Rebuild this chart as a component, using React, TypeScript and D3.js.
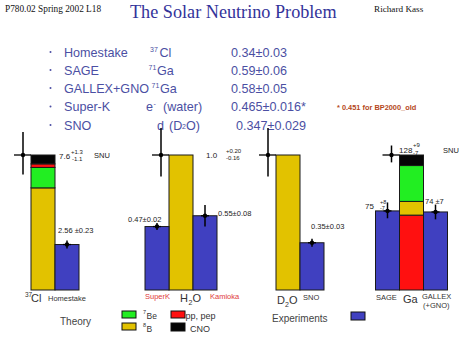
import React from "react";
import * as d3 from "d3";

// ---------- data ----------
const groups = ["Cl", "H2O", "D2O", "Ga"];
const theoryTotal = [7.6, 1.0, 1.0, 128];
const theoryErrPlus = [1.3, 0.2, 0.2, 9];
const theoryErrMinus = [1.1, 0.16, 0.16, 7];
// flux components (same units as the group totals)
const comp8B = [5.75, 1.0, 1.0, 13];
const comp7Be = [1.15, 0, 0, 34];
const compPP = [0.2, 0, 0, 71];
const compCNO = [0.5, 0, 0, 10];
const stackOrder = [
  ["8B", "7Be", "pp", "CNO"],
  ["8B"],
  ["8B"],
  ["pp", "8B", "7Be", "CNO"],
];

const experiments = ["Homestake", "SuperK", "Kamioka", "SNO", "SAGE", "GALLEX"];
const expGroup = [0, 1, 1, 2, 3, 3];
const expValue = [2.56, 0.47, 0.55, 0.35, 75, 74];
const expErrPlus = [0.23, 0.02, 0.08, 0.03, 8, 7];
const expErrMinus = [0.23, 0.02, 0.08, 0.03, 7, 7];
const groupSlots = [
  ["theory", "Homestake"],
  ["SuperK", "theory", "Kamioka"],
  ["theory", "SNO"],
  ["SAGE", "theory", "GALLEX"],
];

const listNames = ["Homestake", "SAGE", "GALLEX+GNO", "Super-K", "SNO"];
const listValues = ["0.34±0.03", "0.59±0.06", "0.58±0.05", "0.465±0.016*", "0.347±0.029"];

// ---------- styles / layout ----------
const W = 474;
const H = 355;
const SANS = "'Liberation Sans', Arial, Helvetica, sans-serif";
const SERIF = "'Liberation Serif', 'Times New Roman', serif";
const LIST_C = "#4b4fa3";
const BLUE = "#4040c0";
const COLORS: Record<string, string> = {
  "8B": "#e2c200",
  "7Be": "#22ee22",
  pp: "#ff1010",
  CNO: "#050505",
};
const compArrays: Record<string, number[]> = { "8B": comp8B, "7Be": comp7Be, pp: compPP, CNO: compCNO };
const groupX = [31, 145, 276, 375.5];
const barW = 24;
const yBottom = 290;
const yTop = 155;

export default function App() {
  const yScales = theoryTotal.map((t) => d3.scaleLinear().domain([0, t]).range([yBottom, yTop]));
  const xScales = groupSlots.map((slots, g) =>
    d3
      .scaleBand<string>()
      .domain(slots)
      .range([groupX[g], groupX[g] + barW * slots.length])
      .padding(0)
  );

  const theoryBars = groups.map((g, gi) => {
    const y = yScales[gi];
    const x = xScales[gi];
    let acc = 0;
    const segs = stackOrder[gi].map((c) => {
      const v = compArrays[c][gi];
      const y0 = acc;
      acc += v;
      return { c, y0, y1: acc };
    });
    const bx = x("theory") as number;
    const errX = bx - 8;
    return (
      <g key={g}>
        {segs.map((s) => (
          <rect
            key={s.c}
            x={bx}
            y={y(s.y1)}
            width={x.bandwidth()}
            height={y(s.y0) - y(s.y1)}
            fill={COLORS[s.c]}
            stroke="#1a1a1a"
            strokeWidth={1}
          />
        ))}
        <line
          x1={errX}
          x2={errX}
          y1={y(theoryTotal[gi] + theoryErrPlus[gi])}
          y2={y(theoryTotal[gi] - theoryErrMinus[gi])}
          stroke="#000"
          strokeWidth={1.5}
        />
        <line x1={errX - 9} x2={bx} y1={y(theoryTotal[gi])} y2={y(theoryTotal[gi])} stroke="#000" strokeWidth={1.3} />
        <circle cx={errX} cy={y(theoryTotal[gi])} r={2.2} fill="#000" />
      </g>
    );
  });

  const expBars = experiments.map((e, i) => {
    const gi = expGroup[i];
    const y = yScales[gi];
    const x = xScales[gi];
    const bx = x(e) as number;
    const cx = bx + x.bandwidth() / 2;
    return (
      <g key={e}>
        <rect
          x={bx}
          y={y(expValue[i])}
          width={x.bandwidth()}
          height={y(0) - y(expValue[i])}
          fill={BLUE}
          stroke="#1a1a1a"
          strokeWidth={1}
        />
        <line
          x1={cx}
          x2={cx}
          y1={Math.min(y(expValue[i] + expErrPlus[i]), y(expValue[i]) - 3.5)}
          y2={Math.max(y(expValue[i] - expErrMinus[i]), y(expValue[i]) + 3.5)}
          stroke="#000"
          strokeWidth={1.5}
        />
        <line x1={cx - 4} x2={cx + 4} y1={y(expValue[i])} y2={y(expValue[i])} stroke="#000" strokeWidth={1.3} />
        <circle cx={cx} cy={y(expValue[i])} r={2.2} fill="#000" />
      </g>
    );
  });

  const rowBase = [56.5, 74.5, 92.5, 111, 129.5];
  const lt = { fontFamily: SANS, fontSize: 12.6, fill: LIST_C } as const;
  const sup = { fontFamily: SANS, fontSize: 7, fill: LIST_C } as const;
  const small = { fontFamily: SANS, fontSize: 7.5, fill: "#222" } as const;
  const tiny = { fontFamily: SANS, fontSize: 6, fill: "#222" } as const;
  const lab = { fontFamily: SANS, fontSize: 7.5, fill: "#333" } as const;
  const red = { fontFamily: SANS, fontSize: 7.5, fill: "#e03a3a" } as const;
  const big = { fontFamily: SANS, fontSize: 11, fill: "#333" } as const;
  const sub = { fontFamily: SANS, fontSize: 7, fill: "#333" } as const;

  return (
    <svg
      width={W}
      height={H}
      viewBox={`0 0 ${W} ${H}`}
      style={{ position: "absolute", left: 0, top: 0, background: "#fff" }}
    >
      <rect x={0} y={0} width={W} height={H} fill="#fff" />
      {/* header */}
      <text x={5} y={11.5} fontFamily={SERIF} fontSize={9.3} fill="#111">
        P780.02 Spring 2002 L18
      </text>
      <text x={130} y={18} fontFamily={SERIF} fontSize={18.2} fill="#33339a">
        The Solar Neutrino Problem
      </text>
      <text x={374} y={11.5} fontFamily={SERIF} fontSize={9.2} fill="#111">
        Richard Kass
      </text>

      {/* list */}
      {listNames.map((n, i) => (
        <g key={n}>
          <circle cx={50.5} cy={rowBase[i] - 4.5} r={1} fill={LIST_C} />
          <text x={64} y={rowBase[i]} {...lt}>
            {n}
          </text>
          <text x={i === 4 ? 236 : 231} y={rowBase[i]} {...lt}>
            {listValues[i]}
          </text>
        </g>
      ))}
      <text x={150} y={rowBase[0] - 5} {...sup}>37</text>
      <text x={159.5} y={rowBase[0]} {...lt}>Cl</text>
      <text x={148.5} y={rowBase[1] - 5} {...sup}>71</text>
      <text x={157} y={rowBase[1]} {...lt}>Ga</text>
      <text x={151.5} y={rowBase[2] - 5} {...sup}>71</text>
      <text x={160} y={rowBase[2]} {...lt}>Ga</text>
      <text x={146} y={rowBase[3]} {...lt}>e</text>
      <text x={153.5} y={rowBase[3] - 5} {...sup}>-</text>
      <text x={163} y={rowBase[3]} {...lt}>(water)</text>
      <text x={157} y={rowBase[4]} {...lt}>d</text>
      <text x={169} y={rowBase[4]} {...lt}>(D</text>
      <text x={182} y={rowBase[4] - 1} {...sup}>2</text>
      <text x={186} y={rowBase[4]} {...lt}>O)</text>
      <text x={337} y={109.5} fontFamily={SANS} fontSize={7.4} fontWeight="bold" fill="#b5481c">
        * 0.451 for BP2000_old
      </text>

      {/* bars */}
      {theoryBars}
      {expBars}

      {/* bar annotations */}
      <text x={59} y={158.5} fontFamily={SANS} fontSize={8} fill="#222">7.6</text>
      <text x={71} y={154} {...tiny}>+1.3</text>
      <text x={72} y={160.5} {...tiny}>-1.1</text>
      <text x={94} y={157.5} {...small}>SNU</text>
      <text x={58} y={232.5} {...small}>2.56 ±0.23</text>

      <text x={206} y={158} fontFamily={SANS} fontSize={8} fill="#222">1.0</text>
      <text x={226} y={153} {...tiny}>+0.20</text>
      <text x={226} y={160} {...tiny}>-0.16</text>
      <text x={128} y={221.5} {...small}>0.47±0.02</text>
      <text x={218} y={215.5} {...small}>0.55±0.08</text>

      <text x={311} y={228.5} {...small}>0.35±0.03</text>

      <text x={399} y={152.5} fontFamily={SANS} fontSize={8} fill="#222">128</text>
      <text x={413} y={147} {...tiny}>+9</text>
      <text x={413} y={155} {...tiny}>-7</text>
      <text x={443} y={152.5} {...small}>SNU</text>
      <text x={365} y={208.5} fontFamily={SANS} fontSize={8} fill="#222">75</text>
      <text x={380} y={204} fontFamily={SANS} fontSize={5.5} fill="#222">+8</text>
      <text x={380} y={210} fontFamily={SANS} fontSize={5.5} fill="#222">-7</text>
      <text x={425} y={203.5} {...small}>74 ±7</text>

      {/* group labels */}
      <text x={25} y={297} fontFamily={SANS} fontSize={6.5} fill="#333">37</text>
      <text x={31} y={302} {...big}>Cl</text>
      <text x={48} y={300.5} {...lab}>Homestake</text>

      <text x={145} y={298.5} {...red}>SuperK</text>
      <text x={180} y={302} {...big}>H</text>
      <text x={188.5} y={304.5} {...sub}>2</text>
      <text x={192.5} y={302} {...big}>O</text>
      <text x={210} y={298.5} {...red}>Kamioka</text>

      <text x={277} y={304} {...big}>D</text>
      <text x={285} y={306.5} {...sub}>2</text>
      <text x={289} y={304} {...big}>O</text>
      <text x={303} y={299.5} {...lab}>SNO</text>

      <text x={376} y={299.5} {...lab}>SAGE</text>
      <text x={403} y={303} {...big}>Ga</text>
      <text x={422} y={298.5} {...lab}>GALLEX</text>
      <text x={423} y={307.5} {...lab}>(+GNO)</text>

      {/* legend */}
      <text x={60} y={324.5} fontFamily={SANS} fontSize={10} fill="#444">Theory</text>
      <rect x={122} y={311} width={14} height={7} fill={COLORS["7Be"]} stroke="#111" strokeWidth={1} />
      <rect x={122} y={323} width={14} height={7} fill={COLORS["8B"]} stroke="#111" strokeWidth={1} />
      <rect x={171} y={311} width={14} height={7} fill={COLORS.pp} stroke="#111" strokeWidth={1} />
      <rect x={171} y={323} width={14} height={8} fill={COLORS.CNO} stroke="#111" strokeWidth={1} />
      <text x={143} y={314} fontFamily={SANS} fontSize={5.5} fill="#333">7</text>
      <text x={146.5} y={318.5} fontFamily={SANS} fontSize={8.5} fill="#333">Be</text>
      <text x={143} y={327} fontFamily={SANS} fontSize={5.5} fill="#333">8</text>
      <text x={146.5} y={331.5} fontFamily={SANS} fontSize={8.5} fill="#333">B</text>
      <text x={185.5} y={319} fontFamily={SANS} fontSize={9} fill="#333">pp, pep</text>
      <text x={190} y={332} fontFamily={SANS} fontSize={9} fill="#333">CNO</text>
      <text x={272} y={321.5} fontFamily={SANS} fontSize={10} fill="#444">Experiments</text>
      <rect x={351} y={312} width={14} height={8} fill={BLUE} stroke="#111" strokeWidth={1} />
    </svg>
  );
}
